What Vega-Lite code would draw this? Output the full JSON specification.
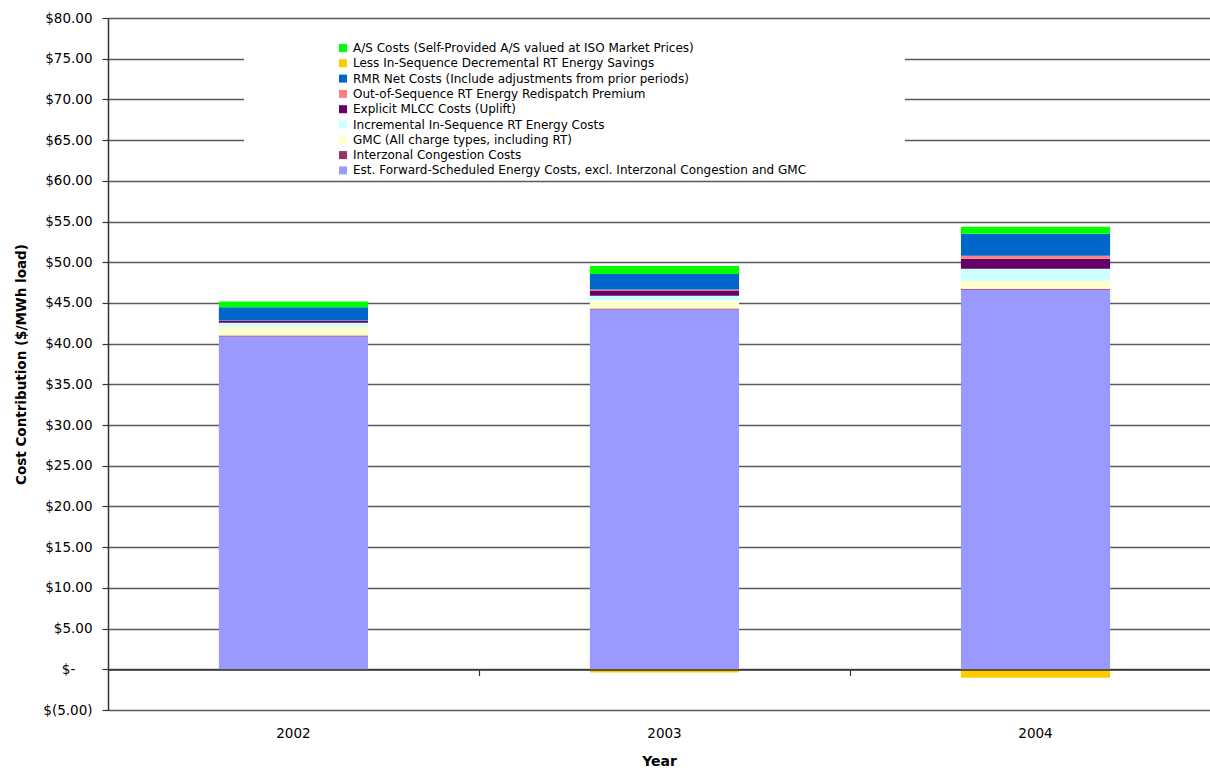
{
  "$schema": "https://vega.github.io/schema/vega-lite/v6.json",
  "width": 1102,
  "height": 692,
  "autosize": {"type": "none"},
  "padding": {"left": 108, "top": 18, "right": 0, "bottom": 60},
  "background": "white",
  "config": {"view": {"stroke": null}, "font": "DejaVu Sans"},
  "datasets": {
    "costs": [
      {"year": "2002", "component": "Est. Forward-Scheduled Energy Costs, excl. Interzonal Congestion and GMC", "series": 1, "cost": 40.88},
      {"year": "2002", "component": "Interzonal Congestion Costs", "series": 2, "cost": 0.12},
      {"year": "2002", "component": "GMC (All charge types, including RT)", "series": 3, "cost": 1.07},
      {"year": "2002", "component": "Incremental In-Sequence RT Energy Costs", "series": 4, "cost": 0.49},
      {"year": "2002", "component": "Explicit MLCC Costs (Uplift)", "series": 5, "cost": 0.25},
      {"year": "2002", "component": "Out-of-Sequence RT Energy Redispatch Premium", "series": 6, "cost": 0.02},
      {"year": "2002", "component": "RMR Net Costs (Include adjustments from prior periods)", "series": 7, "cost": 1.64},
      {"year": "2002", "component": "Less In-Sequence Decremental RT Energy Savings", "series": 8, "cost": -0.05},
      {"year": "2002", "component": "A/S Costs (Self-Provided A/S valued at ISO Market Prices)", "series": 9, "cost": 0.70},
      {"year": "2003", "component": "Est. Forward-Scheduled Energy Costs, excl. Interzonal Congestion and GMC", "series": 1, "cost": 44.20},
      {"year": "2003", "component": "Interzonal Congestion Costs", "series": 2, "cost": 0.12},
      {"year": "2003", "component": "GMC (All charge types, including RT)", "series": 3, "cost": 0.98},
      {"year": "2003", "component": "Incremental In-Sequence RT Energy Costs", "series": 4, "cost": 0.57},
      {"year": "2003", "component": "Explicit MLCC Costs (Uplift)", "series": 5, "cost": 0.65},
      {"year": "2003", "component": "Out-of-Sequence RT Energy Redispatch Premium", "series": 6, "cost": 0.12},
      {"year": "2003", "component": "RMR Net Costs (Include adjustments from prior periods)", "series": 7, "cost": 1.93},
      {"year": "2003", "component": "Less In-Sequence Decremental RT Energy Savings", "series": 8, "cost": -0.40},
      {"year": "2003", "component": "A/S Costs (Self-Provided A/S valued at ISO Market Prices)", "series": 9, "cost": 0.98},
      {"year": "2004", "component": "Est. Forward-Scheduled Energy Costs, excl. Interzonal Congestion and GMC", "series": 1, "cost": 46.62},
      {"year": "2004", "component": "Interzonal Congestion Costs", "series": 2, "cost": 0.12},
      {"year": "2004", "component": "GMC (All charge types, including RT)", "series": 3, "cost": 0.98},
      {"year": "2004", "component": "Incremental In-Sequence RT Energy Costs", "series": 4, "cost": 1.47},
      {"year": "2004", "component": "Explicit MLCC Costs (Uplift)", "series": 5, "cost": 1.23},
      {"year": "2004", "component": "Out-of-Sequence RT Energy Redispatch Premium", "series": 6, "cost": 0.37},
      {"year": "2004", "component": "RMR Net Costs (Include adjustments from prior periods)", "series": 7, "cost": 2.70},
      {"year": "2004", "component": "Less In-Sequence Decremental RT Energy Savings", "series": 8, "cost": -1.05},
      {"year": "2004", "component": "A/S Costs (Self-Provided A/S valued at ISO Market Prices)", "series": 9, "cost": 0.86}
    ],
    "boundaries": [
      {"boundary": 1},
      {"boundary": 2}
    ]
  },
  "layer": [
    {
      "data": {"name": "costs"},
      "mark": {"type": "bar", "strokeWidth": 0},
      "encoding": {
        "x": {
          "field": "year",
          "type": "nominal",
          "sort": ["2002", "2003", "2004"],
          "scale": {"paddingInner": 0.598, "paddingOuter": 0.284, "align": 0.526},
          "axis": {
            "orient": "bottom",
            "domain": false,
            "ticks": false,
            "grid": false,
            "labelAngle": 0,
            "labelFont": "DejaVu Sans",
            "labelFontSize": 13.5,
            "labelColor": "#000000",
            "labelPadding": 16,
            "title": "Year",
            "titleFont": "DejaVu Sans",
            "titleFontSize": 14,
            "titleFontWeight": "bold",
            "titleColor": "#000000",
            "titlePadding": 15
          }
        },
        "y": {
          "field": "cost",
          "type": "quantitative",
          "stack": "zero",
          "scale": {"domain": [-5, 80], "nice": false, "zero": false},
          "axis": {
            "values": [-5, 0, 5, 10, 15, 20, 25, 30, 35, 40, 45, 50, 55, 60, 65, 70, 75, 80],
            "grid": true,
            "gridColor": "#5a5a5a",
            "gridWidth": 1.5,
            "domain": true,
            "domainColor": "#333333",
            "domainWidth": 1.5,
            "ticks": true,
            "tickSize": 6,
            "tickColor": "#333333",
            "tickWidth": 1.2,
            "labelFont": "DejaVu Sans",
            "labelFontSize": 13.5,
            "labelColor": "#000000",
            "labelPadding": 10,
            "labelFlush": false,
            "labelOverlap": false,
            "labelBound": false,
            "labelExpr": "datum.value == 0 ? '$-\u00a0\u00a0\u00a0\u00a0\u200b' : (datum.value < 0 ? '$(' + format(-datum.value, '.2f') + ')' : '$' + format(datum.value, '.2f'))",
            "title": "Cost Contribution ($/MWh load)",
            "titleFont": "DejaVu Sans",
            "titleFontSize": 13.5,
            "titleFontWeight": "bold",
            "titleColor": "#000000",
            "titlePadding": 14
          }
        },
        "color": {
          "field": "component",
          "type": "nominal",
          "scale": {
            "domain": [
              "A/S Costs (Self-Provided A/S valued at ISO Market Prices)",
              "Less In-Sequence Decremental RT Energy Savings",
              "RMR Net Costs (Include adjustments from prior periods)",
              "Out-of-Sequence RT Energy Redispatch Premium",
              "Explicit MLCC Costs (Uplift)",
              "Incremental In-Sequence RT Energy Costs",
              "GMC (All charge types, including RT)",
              "Interzonal Congestion Costs",
              "Est. Forward-Scheduled Energy Costs, excl. Interzonal Congestion and GMC"
            ],
            "range": ["#00FF00", "#FFCC00", "#0066CC", "#FF8080", "#660066", "#CCFFFF", "#FFFFCC", "#993366", "#9999FF"]
          },
          "legend": {
            "orient": "none",
            "legendX": 136,
            "legendY": 21,
            "direction": "vertical",
            "title": "\u200b\u00a0\u00a0\u00a0\u00a0\u00a0\u00a0\u00a0\u00a0\u00a0\u00a0\u00a0\u00a0\u00a0\u00a0\u00a0\u00a0\u00a0\u00a0\u00a0\u00a0\u00a0\u200b",
            "titleOrient": "left",
            "titleFont": "DejaVu Sans",
            "titleFontSize": 12,
            "titlePadding": 2,
            "fillColor": "white",
            "strokeColor": null,
            "padding": 3,
            "symbolType": "square",
            "symbolSize": 64,
            "symbolStrokeWidth": 0,
            "symbolOpacity": 1,
            "labelFont": "DejaVu Sans",
            "labelFontSize": 12,
            "labelColor": "#000000",
            "labelLimit": 0,
            "labelOffset": 4,
            "rowPadding": 3.3,
            "labelExpr": "datum.label + '\u00a0\u00a0\u00a0\u00a0\u00a0\u00a0\u00a0\u00a0\u00a0\u00a0\u00a0\u00a0\u00a0\u00a0\u00a0\u00a0\u00a0\u00a0\u00a0\u00a0\u00a0\u00a0\u00a0\u00a0\u00a0\u200b'"
          }
        },
        "order": {"field": "series", "type": "quantitative"}
      }
    },
    {
      "data": {"name": "boundaries"},
      "mark": {"type": "point", "opacity": 0},
      "encoding": {
        "x": {
          "field": "boundary",
          "type": "quantitative",
          "scale": {"domain": [0, 2.9704], "nice": false, "zero": false},
          "axis": {
            "orient": "bottom",
            "offset": -40.5,
            "values": [1, 2],
            "labels": false,
            "domain": true,
            "domainColor": "#333333",
            "domainWidth": 1.5,
            "ticks": true,
            "tickSize": 6,
            "tickColor": "#333333",
            "tickWidth": 1.2,
            "grid": false,
            "title": null,
            "zindex": 1
          }
        }
      }
    }
  ],
  "resolve": {"scale": {"x": "independent"}, "axis": {"x": "independent"}}
}
